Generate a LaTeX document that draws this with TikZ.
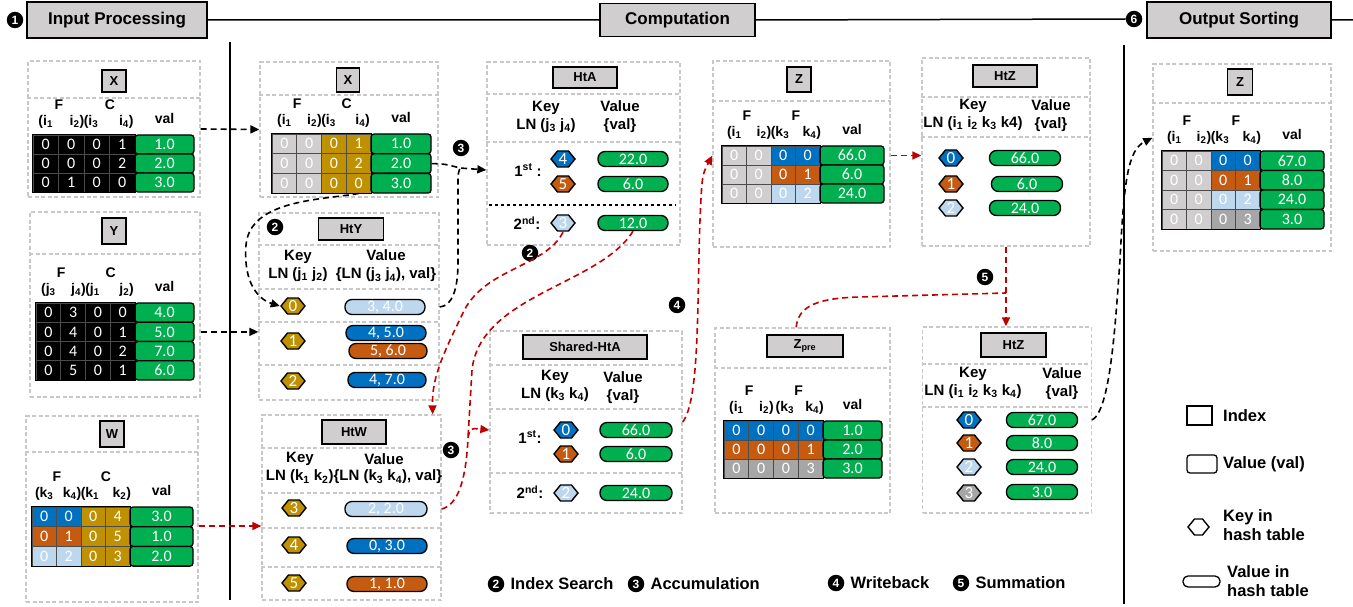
\documentclass[tikz,border=0pt]{standalone}
\usepackage{fontspec}
\setmainfont{Liberation Sans}
\newfontfamily\cali{Carlito}
\usetikzlibrary{arrows.meta,positioning,shapes.geometric,calc}

\definecolor{cgreen}{RGB}{0,176,80}
\definecolor{cblue}{RGB}{0,112,192}
\definecolor{corange}{RGB}{197,90,17}
\definecolor{clblue}{RGB}{189,215,238}
\definecolor{cgold}{RGB}{191,144,0}
\definecolor{clgray}{RGB}{208,206,206}
\definecolor{cdgray}{RGB}{166,166,166}
\definecolor{ttlgray}{RGB}{208,206,206}
\definecolor{pgray}{RGB}{200,200,200}
\definecolor{cred}{RGB}{192,0,0}

\newcommand{\sbs}[1]{\textsubscript{#1}}

\tikzset{
  panel/.style={draw=pgray, dash pattern=on 4pt off 2.5pt, line width=1.3pt, inner sep=0pt},
  sepline/.style={draw=pgray, dash pattern=on 4pt off 2.5pt, line width=1.3pt},
  ttl/.style={draw, line width=1.6pt, fill=ttlgray, inner sep=0pt, font=\fontsize{13}{15}\selectfont\bfseries},
  phasebox/.style={draw, line width=1.6pt, fill=ttlgray, inner sep=0pt, font=\fontsize{17}{20}\selectfont\bfseries},
  hdr/.style={inner sep=0pt, font=\fontsize{14}{16}\selectfont\bfseries},
  khdr/.style={inner sep=0pt, align=center, font=\fontsize{15}{18}\selectfont\bfseries},
  lgtxt/.style={inner sep=0pt, align=left, font=\fontsize{16.5}{19}\selectfont\bfseries},
  cellbox/.style={draw=black!70, line width=0.8pt, inner sep=0pt, text=white, font=\cali\fontsize{16}{18}\selectfont},
  valbox/.style={draw, line width=1.3pt, fill=cgreen, rounded corners=3pt, inner sep=0pt, text=white, font=\cali\fontsize{16}{18}\selectfont},
  htval/.style={draw, line width=1.3pt, rounded corners=7pt, minimum height=15pt, minimum width=#1, inner sep=0pt, text=white, font=\cali\fontsize{16}{18}\selectfont},
  hexkey/.style={rectangle, minimum width=26pt, minimum height=18pt, inner sep=0pt, text=white, font=\cali\fontsize{17}{18}\selectfont,
    path picture={\draw[line width=1.4pt, fill=#1]
      ($(path picture bounding box.west)+(1,0)$) -- ($(path picture bounding box.north west)+(7.5,1)$)
      -- ($(path picture bounding box.north east)+(-7.5,1)$) -- ($(path picture bounding box.east)+(-1,0)$)
      -- ($(path picture bounding box.south east)+(-7.5,-1)$) -- ($(path picture bounding box.south west)+(7.5,-1)$) -- cycle;}},
  badge/.style={circle, fill=black, text=white, inner sep=0pt, minimum size=16.5pt, font=\fontsize{12}{12}\selectfont\bfseries},
  blkline/.style={black, dash pattern=on 6pt off 4pt, line width=1.6pt},
  redline/.style={cred, dash pattern=on 6pt off 4pt, line width=1.6pt},
  blkarrow/.style={blkline, -{Triangle[length=9pt,width=8pt]}},
  redarrow/.style={redline, -{Triangle[length=9pt,width=8pt]}},
}

% rows of a tensor table: name, x0, y0, cell width, val width, row height, rows
\newcommand{\tabrows}[7]{%
  \foreach \ca/\va/\cb/\vb/\cc/\vc/\cd/\vd/\vv [count=\r] in {#7} {
    \node[cellbox, minimum width=#4pt, minimum height=#6pt, fill=\ca] (#1-\r-1) at ({#2+0.5*#4},{#3+(\r-0.5)*#6}) {\va};
    \node[cellbox, minimum width=#4pt, minimum height=#6pt, fill=\cb] (#1-\r-2) at ({#2+1.5*#4},{#3+(\r-0.5)*#6}) {\vb};
    \node[cellbox, minimum width=#4pt, minimum height=#6pt, fill=\cc] (#1-\r-3) at ({#2+2.5*#4},{#3+(\r-0.5)*#6}) {\vc};
    \node[cellbox, minimum width=#4pt, minimum height=#6pt, fill=\cd] (#1-\r-4) at ({#2+3.5*#4},{#3+(\r-0.5)*#6}) {\vd};
    \node[valbox, minimum width=#5pt, minimum height=#6pt] (#1-\r-v) at ({#2+4*#4+0.5*#5},{#3+(\r-0.5)*#6}) {\vv};
    \xdef\lastrow{\r}
  }
  \draw[line width=1.5pt] (#1-1-1.north west) rectangle (#1-\lastrow-4.south east);
}
% column labels above a table: name, F1, F2, four index labels
\newcommand{\tabhead}[7]{%
  \node[hdr, above=6pt of #1-1-1] (#1-s1) {#4};
  \node[hdr, anchor=south east] (#1-s2) at ($(#1-1-2.north east)+(0,-6)$) {#5};
  \node[hdr, anchor=south west] (#1-s3) at ($(#1-1-3.north west)+(0,-6)$) {#6};
  \node[hdr, anchor=south] (#1-s4) at ($(#1-1-4.north)+(4,-6)$) {#7};
  \node[hdr, above=25pt of #1-1-1.north east] (#1-f1) {#2};
  \node[hdr, above=25pt of #1-1-3.north east] (#1-f2) {#3};
  \node[hdr, above=11pt of #1-1-v] (#1-val) {val};
}
\newcommand{\psep}[2]{\draw[sepline] (#1.west |- 0,#2) -- (#1.east |- 0,#2);}

\begin{document}
\begin{tikzpicture}[x=1pt, y=-1pt]
\useasboundingbox (0,0) rectangle (1353,607);

% phases
\node[phasebox, minimum width=180pt, minimum height=36pt] (inproc) at (117,20) {Input Processing};
\node[phasebox, minimum width=155pt, minimum height=33pt] (comp) at (677.5,20) {Computation};
\node[phasebox, minimum width=184pt, minimum height=36pt] (outsort) at (1239,20) {Output Sorting};
\node[badge] (n1) at (15,20) {1};
\node[badge] (n6) at (1134,19) {6};
\coordinate (rend) at (1353,20);
\draw[line width=1.5pt] (inproc.east) -- (comp.west) (comp.east) -- (n6.west) (outsort.east) -- (rend);
\coordinate (v1t) at (230,42); \coordinate (v1b) at (230,600);
\coordinate (v2t) at (1124,45); \coordinate (v2b) at (1124,604);
\draw[line width=1.5pt] (v1t) -- (v1b) (v2t) -- (v2b);

% panels
\node[panel, minimum width=172pt, minimum height=136pt] (pXa) at (114,129) {};
\node[panel, minimum width=170pt, minimum height=185pt] (pYa) at (115,304.5) {};
\node[panel, minimum width=172pt, minimum height=186pt] (pWa) at (112,509) {};
\node[panel, minimum width=178pt, minimum height=135pt] (pXb) at (349,129.5) {};
\node[panel, minimum width=180pt, minimum height=187pt] (pHtY) at (349,306.5) {};
\node[panel, minimum width=179pt, minimum height=185pt] (pHtW) at (351.5,507.5) {};
\node[panel, minimum width=193pt, minimum height=183pt] (pHtA) at (583.5,153.5) {};
\node[panel, minimum width=192pt, minimum height=182pt] (pSH) at (586,422) {};
\node[panel, minimum width=177pt, minimum height=186pt] (pZb) at (801.5,154) {};
\node[panel, minimum width=175pt, minimum height=185pt] (pZp) at (802.5,420.5) {};
\node[panel, minimum width=168pt, minimum height=188pt] (pHtZa) at (1006,152) {};
\node[panel, minimum width=169pt, minimum height=186pt] (pHtZb) at (1007,420) {};
\node[panel, minimum width=178pt, minimum height=187pt] (pZc) at (1242,157.5) {};
\psep{pXa}{98} \psep{pYa}{254} \psep{pWa}{452} \psep{pXb}{95}
\psep{pHtY}{245} \psep{pHtY}{289} \psep{pHtY}{322} \psep{pHtY}{365}
\psep{pHtW}{448} \psep{pHtW}{493} \psep{pHtW}{528} \psep{pHtW}{567}
\psep{pHtA}{94} \psep{pHtA}{142}
\psep{pSH}{365} \psep{pSH}{409} \psep{pSH}{473}
\psep{pZb}{101} \psep{pZp}{368}
\psep{pHtZa}{97} \psep{pHtZa}{137} \psep{pHtZb}{364} \psep{pHtZb}{407}
\psep{pZc}{103}
\draw[black, dashed, line width=1.5pt, shorten <=3pt, shorten >=5pt] (pHtA.west |- 0,205) -- (pHtA.east |- 0,205);

% titles
\node[ttl, minimum width=24pt, minimum height=22pt] (tXa) at (114,81) {X};
\node[ttl, minimum width=24pt, minimum height=26pt] (tYa) at (114,231) {Y};
\node[ttl, minimum width=24pt, minimum height=26pt] (tWa) at (112,434) {W};
\node[ttl, minimum width=23pt, minimum height=24pt] (tXb) at (348,80) {X};
\node[ttl, minimum width=65pt, minimum height=22pt] (tHtY) at (351,229) {HtY};
\node[ttl, minimum width=64pt, minimum height=24pt] (tHtW) at (354,432) {HtW};
\node[ttl, minimum width=64pt, minimum height=21pt] (tHtA) at (585,77.5) {HtA};
\node[ttl, minimum width=124pt, minimum height=24pt] (tSH) at (585,347) {Shared-HtA};
\node[ttl, minimum width=24pt, minimum height=25pt] (tZb) at (799,79.5) {Z};
\node[ttl, minimum width=76pt, minimum height=22pt] (tZp) at (805,346) {Z\sbs{pre}};
\node[ttl, minimum width=64pt, minimum height=22pt] (tHtZa) at (1005,76) {HtZ};
\node[ttl, minimum width=65pt, minimum height=24pt] (tHtZb) at (1013.5,345) {HtZ};
\node[ttl, minimum width=25pt, minimum height=26pt] (tZc) at (1240,82) {Z};

% tensor tables
\tabrows{xa}{33}{135}{25.5}{59}{19}{black/0/black/0/black/0/black/1/1.0, black/0/black/0/black/0/black/2/2.0, black/0/black/1/black/0/black/0/3.0}
\tabhead{xa}{F}{C}{(i\sbs{1}}{i\sbs{2})}{(i\sbs{3}}{i\sbs{4})}
\tabrows{ya}{36}{303}{24.75}{59}{19.25}{black/0/black/3/black/0/black/0/4.0, black/0/black/4/black/0/black/1/5.0, black/0/black/4/black/0/black/2/7.0, black/0/black/5/black/0/black/1/6.0}
\tabhead{ya}{F}{C}{(j\sbs{3}}{j\sbs{4})}{(j\sbs{1}}{j\sbs{2})}
\tabrows{wa}{32}{507}{24.5}{63}{19.7}{cblue/0/cblue/0/cgold/0/cgold/4/3.0, corange/0/corange/1/cgold/0/cgold/5/1.0, clblue/0/clblue/2/cgold/0/cgold/3/2.0}
\tabhead{wa}{F}{C}{(k\sbs{3}}{k\sbs{4})}{(k\sbs{1}}{k\sbs{2})}
\tabrows{xb}{272}{134}{24.75}{60}{19.7}{clgray/0/clgray/0/cgold/0/cgold/1/1.0, clgray/0/clgray/0/cgold/0/cgold/2/2.0, clgray/0/clgray/0/cgold/0/cgold/0/3.0}
\tabhead{xb}{F}{C}{(i\sbs{1}}{i\sbs{2})}{(i\sbs{3}}{i\sbs{4})}
\tabrows{zb}{722}{146}{24.5}{64}{19}{clgray/0/clgray/0/cblue/0/cblue/0/66.0, clgray/0/clgray/0/corange/0/corange/1/6.0, clgray/0/clgray/0/clblue/0/clblue/2/24.0}
\tabhead{zb}{F}{F}{(i\sbs{1}}{i\sbs{2})}{(k\sbs{3}}{k\sbs{4})}
\tabrows{zp}{724}{421}{24.75}{59}{19}{cblue/0/cblue/0/cblue/0/cblue/0/1.0, corange/0/corange/0/corange/0/corange/1/2.0, cdgray/0/cdgray/0/cdgray/0/cdgray/3/3.0}
\tabhead{zp}{F}{F}{(i\sbs{1}}{i\sbs{2})}{\,(k\sbs{3}}{k\sbs{4})}
\tabrows{zc}{1162}{151}{24.5}{64}{19.5}{clgray/0/clgray/0/cblue/0/cblue/0/67.0, clgray/0/clgray/0/corange/0/corange/1/8.0, clgray/0/clgray/0/clblue/0/clblue/2/24.0, clgray/0/clgray/0/cdgray/0/cdgray/3/3.0}
\tabhead{zc}{F}{F}{(i\sbs{1}}{i\sbs{2})}{(k\sbs{3}}{k\sbs{4})}

% HtY
\node[khdr] (kY) at (298,266) {Key\\LN (j\sbs{1} j\sbs{2})};
\node[khdr] (vYh) at (386,266) {Value\\\{LN (j\sbs{3} j\sbs{4}), val\}};
\node[hexkey=cgold] (hY0) at (293,306) {0};
\node[hexkey=cgold] (hY1) at (293,341) {1};
\node[hexkey=cgold] (hY2) at (293,381) {2};
\node[htval=80pt, fill=clblue] (vY0) at (385,307) {3, 4.0};
\node[htval=80pt, fill=cblue] (vY1a) at (386,333) {4, 5.0};
\node[htval=78pt, fill=corange] (vY1b) at (388,351) {5, 6.0};
\node[htval=78pt, fill=cblue] (vY2) at (387,380) {4, 7.0};

% HtW
\node[khdr] (kW) at (300,459) {Key};
\node[khdr] (vWh) at (384,459) {Value};
\node[khdr] (kvW) at (354,477) {LN (k\sbs{1} k\sbs{2})\{LN (k\sbs{3} k\sbs{4}), val\}};
\node[hexkey=cgold] (hW3) at (294,508) {3};
\node[hexkey=cgold] (hW4) at (294,545) {4};
\node[hexkey=cgold] (hW5) at (294,583) {5};
\node[htval=82pt, fill=clblue] (vW3) at (386,509) {2, 2.0};
\node[htval=80pt, fill=cblue] (vW4) at (387,546) {0, 3.0};
\node[htval=80pt, fill=corange] (vW5) at (387,584) {1, 1.0};

% HtA
\node[khdr] (kA) at (546,117) {Key\\LN (j\sbs{3} j\sbs{4})};
\node[khdr] (vAh) at (620,117) {Value\\\{val\}};
\node[khdr] (lA1) at (528,170) {1\textsuperscript{st} :};
\node[khdr] (lA2) at (527,223) {2\textsuperscript{nd}:};
\node[hexkey=cblue] (hA4) at (563,159) {4};
\node[hexkey=corange] (hA5) at (563,184) {5};
\node[hexkey=clblue] (hA3) at (563,223) {3};
\node[htval=70pt, fill=cgreen] (vA4) at (633,159) {22.0};
\node[htval=70pt, fill=cgreen] (vA5) at (633,184) {6.0};
\node[htval=70pt, fill=cgreen] (vA3) at (633,223) {12.0};

% Shared-HtA
\node[khdr] (kS) at (555,385.5) {Key\\LN (k\sbs{3} k\sbs{4})};
\node[khdr] (vSh) at (623,387.5) {Value\\\{val\}};
\node[khdr] (lS1) at (530,437) {1\textsuperscript{st}:};
\node[khdr] (lS2) at (530,492) {2\textsuperscript{nd}:};
\node[hexkey=cblue] (hS0) at (566,430) {0};
\node[hexkey=corange] (hS1) at (566,454) {1};
\node[hexkey=clblue] (hS2) at (566,493) {2};
\node[htval=72pt, fill=cgreen] (vS0) at (636,430) {66.0};
\node[htval=72pt, fill=cgreen] (vS1) at (636,454) {6.0};
\node[htval=72pt, fill=cgreen] (vS2) at (636,493) {24.0};

% HtZ (top)
\node[khdr] (kZa) at (973,115) {Key\\LN (i\sbs{1} i\sbs{2} k\sbs{3} k4)};
\node[khdr] (vZah) at (1051,115.5) {Value\\\{val\}};
\node[hexkey=cblue] (hZa0) at (951,158) {0};
\node[hexkey=corange] (hZa1) at (951,184) {1};
\node[hexkey=clblue] (hZa2) at (951,208) {2};
\node[htval=71pt, fill=cgreen] (vZa0) at (1025,158) {66.0};
\node[htval=71pt, fill=cgreen] (vZa1) at (1027,184) {6.0};
\node[htval=71pt, fill=cgreen] (vZa2) at (1025,208) {24.0};

% HtZ (bottom)
\node[khdr] (kZb) at (973,382.5) {Key\\LN (i\sbs{1} i\sbs{2} k\sbs{3} k\sbs{4})};
\node[khdr] (vZbh) at (1062,384) {Value\\\{val\}};
\node[hexkey=cblue] (hZb0) at (969,420) {0};
\node[hexkey=corange] (hZb1) at (969,443) {1};
\node[hexkey=clblue] (hZb2) at (969,467) {2};
\node[hexkey=cdgray] (hZb3) at (969,493) {3};
\node[htval=71pt, fill=cgreen] (vZb0) at (1042,420) {67.0};
\node[htval=71pt, fill=cgreen] (vZb1) at (1042,443) {8.0};
\node[htval=71pt, fill=cgreen] (vZb2) at (1042,467) {24.0};
\node[htval=71pt, fill=cgreen] (vZb3) at (1042,492) {3.0};

% step badges
\node[badge] (n2a) at (275,227) {2};
\node[badge] (n3a) at (461,148) {3};
\node[badge] (n2c) at (530,253) {2};
\node[badge] (n3c) at (451,450) {3};
\node[badge] (n4a) at (677,305) {4};
\node[badge] (n5a) at (985,277) {5};

% connectors
\draw[blkarrow] (pXa.east) -- (pXb.west);
\draw[blkarrow] (pYa.east |- ya-2-v) -- (pHtY.west |- ya-2-v);
\draw[redarrow] (pWa.east |- wa-2-v.north) -- (pHtW.west |- wa-2-v.north);
\draw[blkarrow] (xb-3-4.south) .. controls (320,200) and (250,200) .. (246,245) .. controls (243,285) and (260,300) .. (hY0.west);
\coordinate (accj) at (460,168);
\draw[blkarrow] (xb-2-v.east) .. controls (445,164) .. (accj) -- (pHtA.west |- lA1);
\draw[blkline] (pHtY.east |- vY0) .. controls (452,306) and (458,290) .. (458,262) -- (458,185) .. controls (458,174) .. (accj);
\draw[redarrow] (hA3.south) .. controls (545,268) and (482,268) .. (462,315) .. controls (440,360) and (432,380) .. ($(pHtW.north east)+(-9,0)$);
\coordinate (accj2) at (468,438);
\draw[redline] (vA3.south) .. controls (600,285) and (480,295) .. (472,370) -- (accj2);
\draw[redline] (pHtW.east |- vW3) .. controls (458,505) and (466,480) .. (accj2);
\draw[redarrow] (accj2) .. controls (470,428) .. (pSH.west |- hS0);
\draw[redarrow] (pSH.east) .. controls (700,400) and (697,300) .. (700,220) .. controls (702,175) .. (pZb.west |- zb-1-1);
\draw[redarrow] (pZb.east |- zb-1-v) -- (pHtZa.west |- zb-1-v);
\coordinate (sumj) at (1006,293);
\draw[redline] (pZp.north -| tZp.west) ++(30,0) .. controls (798,305) and (820,298) .. (860,297) -- (sumj);
\draw[redarrow] (pHtZa.south) -- (pHtZa.south |- pHtZb.north);
\draw[blkarrow] (pHtZb.east |- vZb0) .. controls (1110,410) and (1115,330) .. (1120,260) .. controls (1124,180) and (1128,150) .. (pZc.west |- zc-s1);

% step legend
\node[badge] (b2) at (496,584) {2};
\node[lgtxt, right=6pt of b2] (t2) {Index Search};
\node[badge] (b3) at (636,584) {3};
\node[lgtxt, right=6pt of b3] (t3) {Accumulation};
\node[badge] (b4) at (836,583) {4};
\node[lgtxt, right=6pt of b4] (t4) {Writeback};
\node[badge] (b5) at (961,583) {5};
\node[lgtxt, right=6pt of b5] (t5) {Summation};

% symbol legend
\node[draw, line width=1.3pt, minimum width=25pt, minimum height=19pt, inner sep=0pt] (lgIdx) at (1199.5,415.5) {};
\node[lgtxt, anchor=west] (lgIdxT) at (1223,416) {Index};
\node[draw, line width=1.3pt, rounded corners=3pt, minimum width=30pt, minimum height=18pt, inner sep=0pt] (lgVal) at (1202,464) {};
\node[lgtxt, anchor=west] (lgValT) at (1223,464) {Value (val)};
\node[hexkey=white, minimum width=23pt, minimum height=18pt] (lgKey) at (1198.5,527) {};
\node[lgtxt, anchor=west] (lgKeyT) at (1223,525) {Key in\\hash table};
\node[htval=37pt, fill=white, minimum height=11pt, rounded corners=5pt] (lgPill) at (1201.5,581.5) {};
\node[lgtxt, anchor=west] (lgPillT) at (1227,581) {Value in\\hash table};
\end{tikzpicture}
\end{document}
